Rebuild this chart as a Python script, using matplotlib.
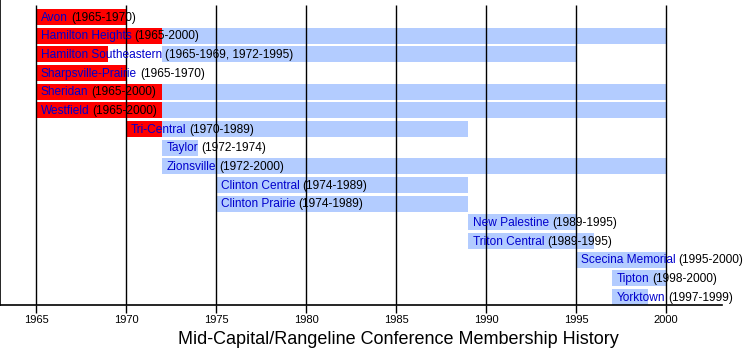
import matplotlib
matplotlib.use("Agg")
import matplotlib.pyplot as plt
from matplotlib import font_manager

schools = ["Avon", "Hamilton Heights", "Hamilton Southeastern", "Sharpsville-Prairie",
           "Sheridan", "Westfield", "Tri-Central", "Taylor", "Zionsville",
           "Clinton Central", "Clinton Prairie", "New Palestine", "Triton Central",
           "Scecina Memorial", "Tipton", "Yorktown"]
year_labels = ["(1965-1970)", "(1965-2000)", "(1965-1969, 1972-1995)", "(1965-1970)",
               "(1965-2000)", "(1965-2000)", "(1970-1989)", "(1972-1974)", "(1972-2000)",
               "(1974-1989)", "(1974-1989)", "(1989-1995)", "(1989-1995)",
               "(1995-2000)", "(1998-2000)", "(1997-1999)"]
# red = Mid-Capital era, blue = Rangeline era (as drawn)
red_spans = [[(1965, 1970)], [(1965, 1972)], [(1965, 1969)], [(1965, 1970)],
             [(1965, 1972)], [(1965, 1972)], [(1970, 1972)], [], [],
             [], [], [], [], [], [], []]
blue_spans = [[], [(1972, 2000)], [(1972, 1995)], [],
              [(1972, 2000)], [(1972, 2000)], [(1972, 1989)], [(1972, 1974)], [(1972, 2000)],
              [(1975, 1989)], [(1975, 1989)], [(1989, 1995)], [(1989, 1996)],
              [(1995, 2000)], [(1997, 2000)], [(1997, 1999)]]
tick_years = [1965, 1970, 1975, 1980, 1985, 1990, 1995, 2000]
title = "Mid-Capital/Rangeline Conference Membership History"

names = {f.name for f in font_manager.fontManager.ttflist}
FONT = "Liberation Sans Narrow" if "Liberation Sans Narrow" in names else "Liberation Sans"

RED = "#ff0000"
BLUE = "#b3ccff"
LINK = "#0000cc"

W, H = 750, 355
fig = plt.figure(figsize=(W / 100, H / 100), dpi=100)
ax_bottom_px = 305
ax = fig.add_axes([0, 1 - ax_bottom_px / H, 722 / W, ax_bottom_px / H])

pitch = 18.67
first_center = 17
n = len(schools)
ax.set_xlim(1963, 1963 + 722 / 18)
ax.set_ylim((ax_bottom_px - first_center) / pitch, -first_center / pitch)
bar_h = 16 / pitch

for i in range(n):
    for s, e in red_spans[i]:
        ax.barh(i, e - s, left=s, height=bar_h, color=RED, zorder=2, linewidth=0)
    for s, e in blue_spans[i]:
        ax.barh(i, e - s, left=s, height=bar_h, color=BLUE, zorder=2, linewidth=0)

top_grid = (5 - first_center) / pitch
ax.vlines(tick_years, top_grid, (ax_bottom_px - first_center) / pitch,
          color="black", linewidth=1, zorder=3)

for i in range(n):
    starts = [s for s, e in red_spans[i] + blue_spans[i]]
    x0 = min(starts)
    t1 = ax.annotate(schools[i], xy=(x0, i + 0.04), xytext=(3.5, 0), textcoords="offset points",
                     va="center", ha="left", color=LINK, fontsize=8.6, family=FONT, zorder=4)
    ax.annotate(year_labels[i], xy=(1, 0), xycoords=t1, xytext=(2.2, 0),
                textcoords="offset points", va="bottom", ha="left",
                color="black", fontsize=8.6, family=FONT, zorder=4)

ax.set_xticks(tick_years)
ax.set_xticklabels([str(y) for y in tick_years], fontsize=8, family=FONT)
ax.tick_params(axis="x", length=6, width=1, color="black", pad=1.5)
ax.set_yticks([])
for side in ["top", "right"]:
    ax.spines[side].set_visible(False)
ax.spines["left"].set_linewidth(1.2)
ax.spines["bottom"].set_linewidth(1.2)

fig.text(398 / W, 1 - 339 / H, title, ha="center", va="center", fontsize=13.0, family=FONT)

fig.savefig("out.png", dpi=100)
